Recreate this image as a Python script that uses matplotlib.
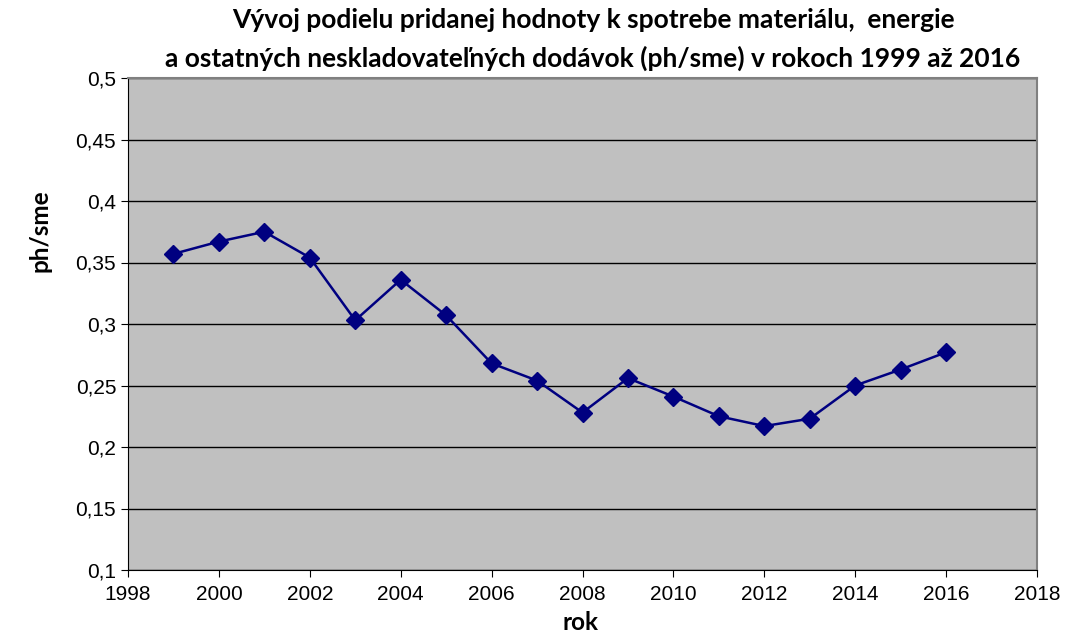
import matplotlib.pyplot as plt
from matplotlib.ticker import FuncFormatter

roky = [1999, 2000, 2001, 2002, 2003, 2004, 2005, 2006, 2007, 2008,
        2009, 2010, 2011, 2012, 2013, 2014, 2015, 2016]
ph_sme = [0.357, 0.367, 0.375, 0.354, 0.303, 0.336, 0.307, 0.268, 0.254, 0.228,
          0.256, 0.241, 0.225, 0.217, 0.223, 0.250, 0.263, 0.277]

fig = plt.figure(figsize=(10.68, 6.36), dpi=100)
ax = fig.add_axes([128/1068, 1 - 570/636, (1037-128)/1068, (570-78)/636])
ax.set_facecolor('#C0C0C0')

ax.plot(roky, ph_sme, color='#000080', linewidth=1.8, marker='D', markersize=9.5,
        zorder=3)

ax.set_xlim(1998, 2018)
ax.set_ylim(0.1, 0.5)
ax.set_xticks(range(1998, 2019, 2))
ax.set_yticks([0.1, 0.15, 0.2, 0.25, 0.3, 0.35, 0.4, 0.45, 0.5])
ax.yaxis.set_major_formatter(FuncFormatter(lambda v, p: ('%g' % round(v, 2)).replace('.', ',')))
ax.grid(axis='y', color='black', linewidth=1)
ax.set_axisbelow(True)

for s in ['top', 'right']:
    ax.spines[s].set_color('#808080')
    ax.spines[s].set_linewidth(1.5)
for s in ['left', 'bottom']:
    ax.spines[s].set_color('black')
ax.tick_params(direction='out', length=5, labelsize=15)
ax.tick_params(axis='x', pad=6)
for lbl in ax.get_xticklabels() + ax.get_yticklabels():
    lbl.set_family('Liberation Sans')

tfont = dict(family='Lato', weight='bold', fontsize=19, ha='center', va='center')
fig.text(593/1068, 1 - 20/636,
         'Vývoj podielu pridanej hodnoty k spotrebe materiálu,  energie', **tfont)
fig.text(593/1068, 1 - 58/636,
         'a ostatných neskladovateľných dodávok (ph/sme) v rokoch 1999 až 2016', **tfont)
fig.text(40/1068, 1 - 231/636, 'ph/sme', family='Lato', weight='bold', fontsize=17.5,
         rotation=90, ha='center', va='center')
fig.text(580/1068, 1 - 623/636, 'rok', family='Lato', weight='bold', fontsize=17.5,
         ha='center', va='center')

fig.savefig('out.png', dpi=100)
